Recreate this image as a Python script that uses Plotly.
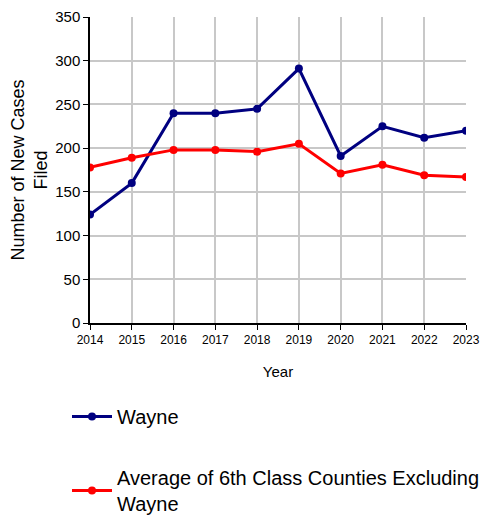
import plotly.graph_objects as go

years = [2014, 2015, 2016, 2017, 2018, 2019, 2020, 2021, 2022, 2023]
wayne = [124, 160, 240, 240, 245, 291, 191, 225, 212, 220]
avg6 = [178, 189, 198, 198, 196, 205, 171, 181, 169, 167]

W, H = 485, 507  # page has an 8px body margin
L, R, T, B = 82, 27, 9, 192
PW, PH = W - L - R, H - T - B

fig = go.Figure()
fig.add_trace(go.Scatter(x=years, y=wayne, mode="lines+markers", name="Wayne",
                         line=dict(color="#000080", width=3), marker=dict(size=8, color="#000080"),
                         legendgroup="a"))
fig.add_trace(go.Scatter(x=years, y=avg6, mode="lines+markers",
                         name="Average of 6th Class Counties Excluding<br>Wayne",
                         line=dict(color="#ff0000", width=3), marker=dict(size=8, color="#ff0000"),
                         legendgroup="b"))

axis_common = dict(showline=True, linecolor="black", linewidth=1.5, ticks="outside",
                   tickcolor="black", ticklen=5, gridcolor="#c8c8c8", gridwidth=1.5,
                   zeroline=False, mirror=False)
fig.update_xaxes(range=[2014, 2023], tickmode="array", tickvals=years, ticktext=[str(y) for y in years],
                 title=dict(text="Year", font=dict(size=15), standoff=20), tickfont=dict(size=12),
                 **axis_common)
fig.update_yaxes(range=[0, 350], dtick=50, tickfont=dict(size=15),
                 title=dict(text="Number of New Cases<br>Filed", font=dict(size=18), standoff=8),
                 **axis_common)

fig.update_layout(
    width=W, height=H,
    margin=dict(l=L, r=R, t=T, b=B, autoexpand=False),
    paper_bgcolor="white", plot_bgcolor="white",
    font=dict(family="Liberation Sans, Arial, sans-serif", color="black"),
    legend=dict(x=(59 - L) / PW, y=-(389 - (H - B)) / PH,
                xanchor="left", yanchor="top", traceorder="grouped",
                tracegroupgap=32, font=dict(size=20), itemwidth=40),
    showlegend=True,
)
fig.write_html("out.html")
